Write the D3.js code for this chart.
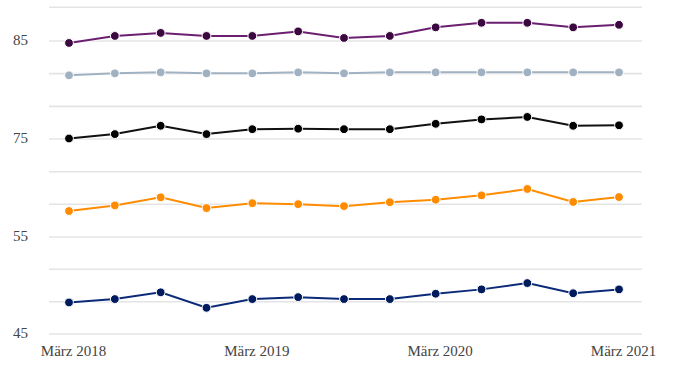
<!DOCTYPE html>
<html><head><meta charset="utf-8">
<script src="https://cdn.jsdelivr.net/npm/d3@7"></script>
<style>body{margin:0;background:#fff}svg{display:block}</style>
</head><body>
<svg id="c" width="677" height="378"></svg>
<script>
const categories = ["März 2018","Juni 2018","Sep 2018","Dez 2018","März 2019","Juni 2019","Sep 2019","Dez 2019","März 2020","Juni 2020","Sep 2020","Dez 2020","März 2021"];
const purple = [84.8,85.5,85.8,85.5,85.5,85.95,85.3,85.5,86.35,86.8,86.8,86.35,86.6];
const grey   = [81.5,81.7,81.8,81.7,81.7,81.8,81.7,81.8,81.8,81.8,81.8,81.8,81.8];
const black  = [75.05,75.5,76.35,75.5,76.0,76.05,76.0,76.0,76.55,77.0,77.25,76.35,76.4];
const orange = [60.3,61.45,63.1,60.9,61.9,61.7,61.3,62.1,62.6,63.5,64.8,62.15,63.15];
const navy   = [48.25,48.6,49.3,47.7,48.6,48.8,48.6,48.6,49.15,49.6,50.25,49.2,49.6];
const yTickLabels = [45,55,75,85];
const gridValues = [45,48.33,51.67,55,61.67,68.33,75,78.33,81.67,85,88.33];
const xTickLabels = ["März 2018","März 2019","März 2020","März 2021"];

const series = [
  {values: grey, line:"#a0b1c1", dot:"#a0b1c1"},
  {values: purple, line:"#6b1f70", dot:"#3b0840"},
  {values: black, line:"#111111", dot:"#000000"},
  {values: orange, line:"#ff8c00", dot:"#ff8c00"},
  {values: navy, line:"#0b2a78", dot:"#001a5e"}
];

const svg = d3.select("#c");
const x = d3.scalePoint().domain(categories).range([69,619]);
const y = d3.scaleLinear().domain([45,55,75,85,88.33]).range([334,237,139,41,7.3]);
const font = "'Liberation Serif', 'Times New Roman', serif";

svg.append("g").selectAll("line").data(gridValues).join("line")
  .attr("x1",49).attr("x2",642)
  .attr("y1",d=>y(d)).attr("y2",d=>y(d))
  .attr("stroke","#e4e4e4").attr("stroke-width",1.6);

const ya = svg.append("g").attr("transform","translate(28,0)")
  .call(d3.axisLeft(y).tickValues(yTickLabels).tickSize(0).tickPadding(0).tickFormat(d3.format("d")));
ya.select(".domain").remove();
ya.selectAll("text").attr("font-family",font).attr("font-size",15).attr("fill","#444").attr("dy","0.2em");

const xa = svg.append("g").attr("transform","translate(0,342)")
  .call(d3.axisBottom(x).tickValues(xTickLabels).tickSize(0).tickPadding(0));
xa.select(".domain").remove();
xa.selectAll("text").attr("font-family",font).attr("font-size",15).attr("fill","#444").attr("dx",4).attr("dy","0.9em");

const line = d3.line().x((d,i)=>x(categories[i])).y(d=>y(d));
series.forEach(s=>{
  const g = svg.append("g");
  g.append("path").datum(s.values).attr("d",line)
    .attr("fill","none").attr("stroke","#fff").attr("stroke-width",4).attr("opacity",0.6);
  g.append("path").datum(s.values).attr("d",line)
    .attr("fill","none").attr("stroke",s.line).attr("stroke-width",2);
  g.selectAll("circle").data(s.values).join("circle")
    .attr("cx",(d,i)=>x(categories[i])).attr("cy",d=>y(d)).attr("r",4.4)
    .attr("fill",s.dot).attr("stroke","#fff").attr("stroke-width",1);
});
</script>
</body></html>
